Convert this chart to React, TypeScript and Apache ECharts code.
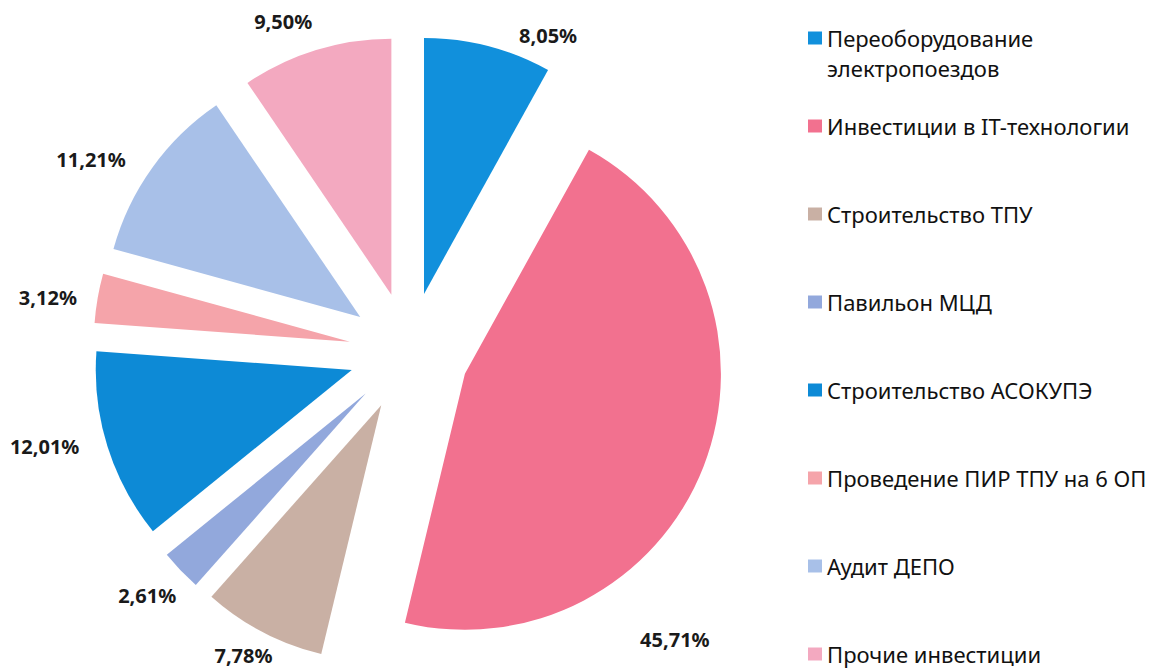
import React, { useEffect, useRef } from 'react';
import * as echarts from 'echarts';

const categories = [
  'Переоборудование\nэлектропоездов',
  'Инвестиции в IT-технологии',
  'Строительство ТПУ',
  'Павильон МЦД',
  'Строительство АСОКУПЭ',
  'Проведение ПИР ТПУ на 6 ОП',
  'Аудит ДЕПО',
  'Прочие инвестиции',
];
const shares = [8.05, 45.71, 7.78, 2.61, 12.01, 3.12, 11.21, 9.5];
const colors = ['#1190dc', '#f2718f', '#c9b0a4', '#92a8dc', '#0d8ad6', '#f5a4aa', '#a8c0e8', '#f3a9c0'];

// label nudges (style only), per slice, in pixels
const labelNudge: [number, number][] = [
  [21, 9],
  [-87, 166],
  [24, 6],
  [15, 11],
  [-4, -6],
  [4, 3],
  [-5, 3],
  [7, -9],
];

const fmt = (v: number) => v.toFixed(2).replace('.', ',') + '%';

export default function App() {
  const ref = useRef<HTMLDivElement>(null);
  useEffect(() => {
    if (!ref.current) return;
    const chart = echarts.init(ref.current, undefined, { renderer: 'svg' });
    const legendText = {
      fontFamily: 'Noto Sans',
      fontSize: 22,
      color: '#111111',
      lineHeight: 30,
    };
    const legendCommon = {
      orient: 'vertical',
      left: 808,
      padding: 0,
      itemWidth: 14,
      itemHeight: 13,
      icon: 'rect',
      selectedMode: false,
    };
    chart.setOption({
      animation: false,
      color: colors,
      legend: [
        {
          ...legendCommon,
          top: -7,
          textStyle: legendText,
          // leading empty line keeps the first text line level with the marker
          formatter: (name: string) => '\n' + name,
          data: categories.slice(0, 1),
        },
        {
          ...legendCommon,
          top: 111,
          itemGap: 58,
          textStyle: legendText,
          data: categories.slice(1),
        },
      ],
      series: [
        {
          type: 'pie',
          center: [409, 352],
          radius: 256,
          startAngle: 90,
          clockwise: true,
          selectedMode: 'multiple',
          selectedOffset: 60,
          avoidLabelOverlap: false,
          emphasis: { disabled: true },
          label: {
            show: true,
            position: 'outside',
            formatter: (p: any) => fmt(p.value),
            fontFamily: 'Noto Sans',
            fontWeight: 'bold',
            fontSize: 20,
            color: '#1a1a1a',
          },
          labelLine: { show: false, length: 20, length2: 0 },
          labelLayout: (p: any) => ({
            dx: labelNudge[p.dataIndex][0],
            dy: labelNudge[p.dataIndex][1],
          }),
          data: categories.map((name, i) => ({
            name,
            value: shares[i],
            selected: true,
            itemStyle: { color: colors[i] },
            select: { itemStyle: { color: colors[i], borderWidth: 0 } },
          })),
        },
      ],
    });
    return () => chart.dispose();
  }, []);
  return (
    <div
      ref={ref}
      style={{ position: 'absolute', left: 0, top: 0, width: 1151, height: 671, background: '#ffffff' }}
    />
  );
}
